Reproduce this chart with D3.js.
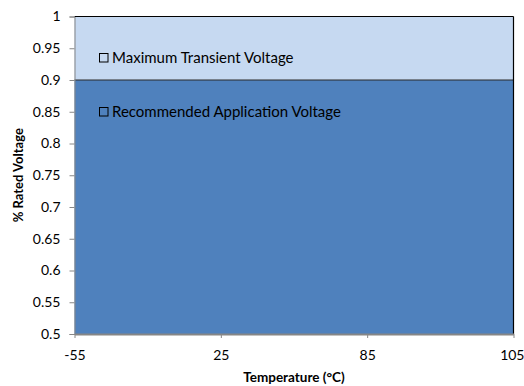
<!DOCTYPE html>
<html>
<head>
<meta charset="utf-8">
<script src="https://cdn.jsdelivr.net/npm/d3@7"></script>
<style>
  html, body { margin: 0; padding: 0; background: #fff; }
  svg { display: block; }
  text { font-family: Lato, "Open Sans", sans-serif; fill: #000; }
</style>
</head>
<body>
<svg id="chart" width="524" height="386"></svg>
<script>
// Temperature categories and the voltage derating series
const temperatures = ["-55", "25", "85", "105"];
const recommendedVoltage = [0.9, 0.9, 0.9, 0.9];
const transientMargin = [0.1, 0.1, 0.1, 0.1];   // stacked on top of recommended
const seriesNames = ["Recommended Application Voltage", "Maximum Transient Voltage"];
const yTicks = [0.5, 0.55, 0.6, 0.65, 0.7, 0.75, 0.8, 0.85, 0.9, 0.95, 1];

const svg = d3.select("#chart");
const margin = { left: 74.5, right: 10.5, top: 16.5, bottom: 52 };
const W = 524, H = 386;

const x = d3.scalePoint().domain(temperatures).range([margin.left, W - margin.right]);
const y = d3.scaleLinear().domain([0.5, 1]).range([H - margin.bottom, margin.top]).clamp(true);

const rows = temperatures.map((t, i) => ({ t, rec: recommendedVoltage[i], trans: transientMargin[i] }));
const stacked = d3.stack().keys(["rec", "trans"])(rows);
const fills = ["#4F81BD", "#C6D9F1"];

const area = d3.area()
  .x(d => x(d.data.t))
  .y0(d => y(d[0]))
  .y1(d => y(d[1]));

svg.selectAll("path.area")
  .data(stacked)
  .join("path")
  .attr("class", "area")
  .attr("fill", (d, i) => fills[i])
  .attr("d", area);

// boundary line at the top of the recommended series
const topLine = d3.line().x(d => x(d.data.t)).y(d => y(d[1]));
svg.append("path").datum(stacked[0])
  .attr("fill", "none").attr("stroke", "#2b2b2b").attr("stroke-width", 1.2)
  .attr("d", topLine);
// top and right edges of the transient band
svg.append("path").datum(stacked[1])
  .attr("fill", "none").attr("stroke", "#000").attr("stroke-width", 1.2)
  .attr("d", topLine);
svg.append("line")
  .attr("x1", x("105")).attr("x2", x("105"))
  .attr("y1", y(1)).attr("y2", y(0.5))
  .attr("stroke", "#000").attr("stroke-width", 1.2);

// Y axis
const yAxis = svg.append("g")
  .attr("transform", `translate(${margin.left},0)`)
  .call(d3.axisLeft(y).tickValues(yTicks).tickFormat(d3.format("")).tickSize(5).tickPadding(9));
yAxis.select(".domain").attr("stroke", "#868686");
yAxis.selectAll(".tick line").attr("stroke", "#868686");
yAxis.selectAll(".tick text").attr("font-size", 14).attr("fill", "#000")
  .style("font-family", "Lato, 'Open Sans', sans-serif");

// X axis
const xAxis = svg.append("g")
  .attr("transform", `translate(0,${H - margin.bottom})`)
  .call(d3.axisBottom(x).tickSize(4).tickSizeOuter(0).tickPadding(12));
xAxis.select(".domain").attr("stroke", "#868686").attr("stroke-width", 2);
xAxis.selectAll(".tick line").attr("stroke", "#868686");
xAxis.selectAll(".tick text").attr("font-size", 14).attr("fill", "#000")
  .style("font-family", "Lato, 'Open Sans', sans-serif");
// the last category label sits flush against the right edge
xAxis.selectAll(".tick text").filter(d => d === "105")
  .attr("text-anchor", "end").attr("x", W - x("105"));

// Axis titles
svg.append("text")
  .attr("x", (margin.left + W - margin.right) / 2).attr("y", 382)
  .attr("text-anchor", "middle").attr("font-size", 13.5).attr("font-weight", "bold")
  .text("Temperature (°C)");
svg.append("text")
  .attr("transform", `translate(23,${(margin.top + H - margin.bottom) / 2}) rotate(-90)`)
  .attr("text-anchor", "middle").attr("font-size", 13).attr("font-weight", "bold")
  .text("% Rated Voltage");

// Legend entries placed inside each band
const legendRows = [
  { name: seriesNames[1], value: 0.935 },
  { name: seriesNames[0], value: 0.85 }
];
const lg = svg.selectAll("g.legend").data(legendRows).join("g")
  .attr("class", "legend")
  .attr("transform", d => `translate(99,${Math.round(y(d.value))})`);
lg.append("rect")
  .attr("x", 0.5).attr("y", -4.5).attr("width", 8.5).attr("height", 8.5)
  .attr("fill", "none").attr("stroke", "#000").attr("stroke-width", 1);
lg.append("text")
  .attr("x", 13).attr("y", 5)
  .attr("font-size", 15).attr("fill", "#000")
  .text(d => d.name);
</script>
</body>
</html>
